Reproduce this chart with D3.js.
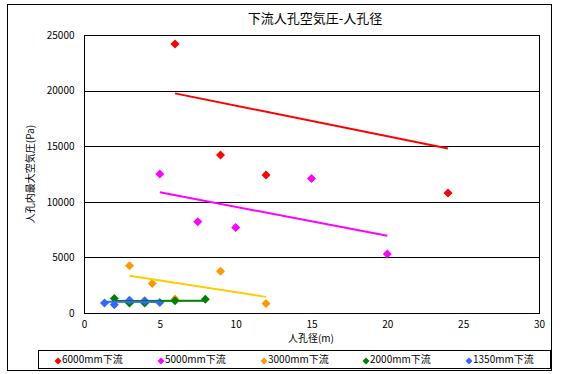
<!DOCTYPE html>
<meta charset="utf-8">
<script src="https://d3js.org/d3.v7.min.js"></script>
<style>
body { margin: 0; background: #fff; }
text { font-family: "Noto Sans CJK JP", "Noto Sans", sans-serif; fill: #000; }
</style>
<div id="chart"></div>
<script>
// series names (legend order)
var seriesNames = ["6000mm下流", "5000mm下流", "3000mm下流", "2000mm下流", "1350mm下流"];
var markerColors = ["#ff0000", "#ff00ff", "#ff9900", "#008000", "#3366ff"];
var lineColors = ["#ff0000", "#ff00ff", "#ffcc00", "#008000", "#3366ff"];

// points
var x6000 = [6, 9, 12, 24];
var y6000 = [24200, 14200, 12400, 10800];
var x5000 = [5, 7.5, 10, 15, 20];
var y5000 = [12500, 8200, 7700, 12100, 5300];
var x3000 = [3, 4.5, 6, 9, 12];
var y3000 = [4250, 2650, 1250, 3750, 850];
var x2000 = [2, 3, 4, 6, 8];
var y2000 = [1300, 900, 900, 1100, 1230];
var x1350 = [1.35, 2, 3, 4, 5];
var y1350 = [900, 750, 1150, 1100, 950];

// trend line ends
var trendX6000 = [6, 24], trendY6000 = [19750, 14800];
var trendX5000 = [5, 20], trendY5000 = [10850, 6950];
var trendX3000 = [3, 12], trendY3000 = [3350, 1450];
var trendX2000 = [2, 8], trendY2000 = [1080, 1100];
var trendX1350 = [1.35, 5], trendY1350 = [1010, 980];

var xTicks = [0, 5, 10, 15, 20, 25, 30];
var yTicks = [0, 5000, 10000, 15000, 20000, 25000];

var pointsX = [x6000, x5000, x3000, x2000, x1350];
var pointsY = [y6000, y5000, y3000, y2000, y1350];
var trendsX = [trendX6000, trendX5000, trendX3000, trendX2000, trendX1350];
var trendsY = [trendY6000, trendY5000, trendY3000, trendY2000, trendY1350];

var width = 562, height = 374;
var plot = { left: 84, right: 539, top: 35, bottom: 313 };

var svg = d3.select("#chart")
  .append("svg")
  .attr("width", width)
  .attr("height", height);

// outer chart border
svg.append("rect")
  .attr("x", 7.5).attr("y", 4.5)
  .attr("width", 544).attr("height", 366)
  .attr("fill", "none").attr("stroke", "#000");

var x = d3.scaleLinear().domain([0, 30]).range([plot.left, plot.right]);
var y = d3.scaleLinear().domain([0, 25000]).range([plot.bottom, plot.top]);

// gridlines
svg.append("g")
  .selectAll("line")
  .data(yTicks)
  .enter().append("line")
  .attr("x1", plot.left).attr("x2", plot.right)
  .attr("y1", function(d) { return Math.round(y(d)) + 0.5; })
  .attr("y2", function(d) { return Math.round(y(d)) + 0.5; })
  .attr("stroke", "#000");

// plot border
svg.append("rect")
  .attr("x", plot.left + 0.5).attr("y", plot.top + 0.5)
  .attr("width", plot.right - plot.left).attr("height", plot.bottom - plot.top)
  .attr("fill", "none").attr("stroke", "#000");

// axes
var xAxis = svg.append("g")
  .attr("transform", "translate(0," + (plot.bottom + 0.5) + ")")
  .call(d3.axisBottom(x).tickValues(xTicks).tickSize(0).tickPadding(7));
var yAxis = svg.append("g")
  .attr("transform", "translate(" + (plot.left + 0.5) + ",0)")
  .call(d3.axisLeft(y).tickValues(yTicks).tickSize(0).tickPadding(10).tickFormat(d3.format("d")));
[xAxis, yAxis].forEach(function(a) {
  a.select(".domain").remove();
  a.selectAll("text").style("font-size", "10px");
});

// title and axis labels
svg.append("text")
  .attr("x", 315).attr("y", 23)
  .attr("text-anchor", "middle")
  .style("font-size", "13px")
  .text("下流人孔空気圧-人孔径");

svg.append("text")
  .attr("x", 311).attr("y", 342)
  .attr("text-anchor", "middle")
  .style("font-size", "10px")
  .text("人孔径(m)");

svg.append("text")
  .attr("transform", "translate(34,174) rotate(-90)")
  .attr("text-anchor", "middle")
  .style("font-size", "10px")
  .text("人孔内最大空気圧(Pa)");

function diamond(cx, cy, r) {
  return "M" + cx + "," + (cy - r) + "L" + (cx + r) + "," + cy +
    "L" + cx + "," + (cy + r) + "L" + (cx - r) + "," + cy + "Z";
}

// markers
seriesNames.forEach(function(name, i) {
  var pts = pointsX[i].map(function(v, j) { return [v, pointsY[i][j]]; });
  svg.append("g")
    .selectAll("path")
    .data(pts)
    .enter().append("path")
    .attr("d", function(d) { return diamond(x(d[0]), y(d[1]), 4.5); })
    .attr("fill", markerColors[i]);
});

// trend lines on top
var line = d3.line()
  .x(function(d) { return x(d[0]); })
  .y(function(d) { return y(d[1]); });
seriesNames.forEach(function(name, i) {
  var pts = trendsX[i].map(function(v, j) { return [v, trendsY[i][j]]; });
  svg.append("path")
    .datum(pts)
    .attr("fill", "none")
    .attr("stroke", lineColors[i])
    .attr("stroke-width", 2)
    .attr("d", line);
});

// legend
svg.append("rect")
  .attr("x", 38.5).attr("y", 350.5)
  .attr("width", 512).attr("height", 18)
  .attr("fill", "#fff").attr("stroke", "#000");

var legendX = [58, 161, 264, 366, 469];
seriesNames.forEach(function(name, i) {
  svg.append("path")
    .attr("d", diamond(legendX[i], 361, 3.5))
    .attr("fill", markerColors[i]);
  svg.append("text")
    .attr("x", legendX[i] + 4).attr("y", 363)
    .style("font-size", "10px")
    .text(name);
});
</script>
